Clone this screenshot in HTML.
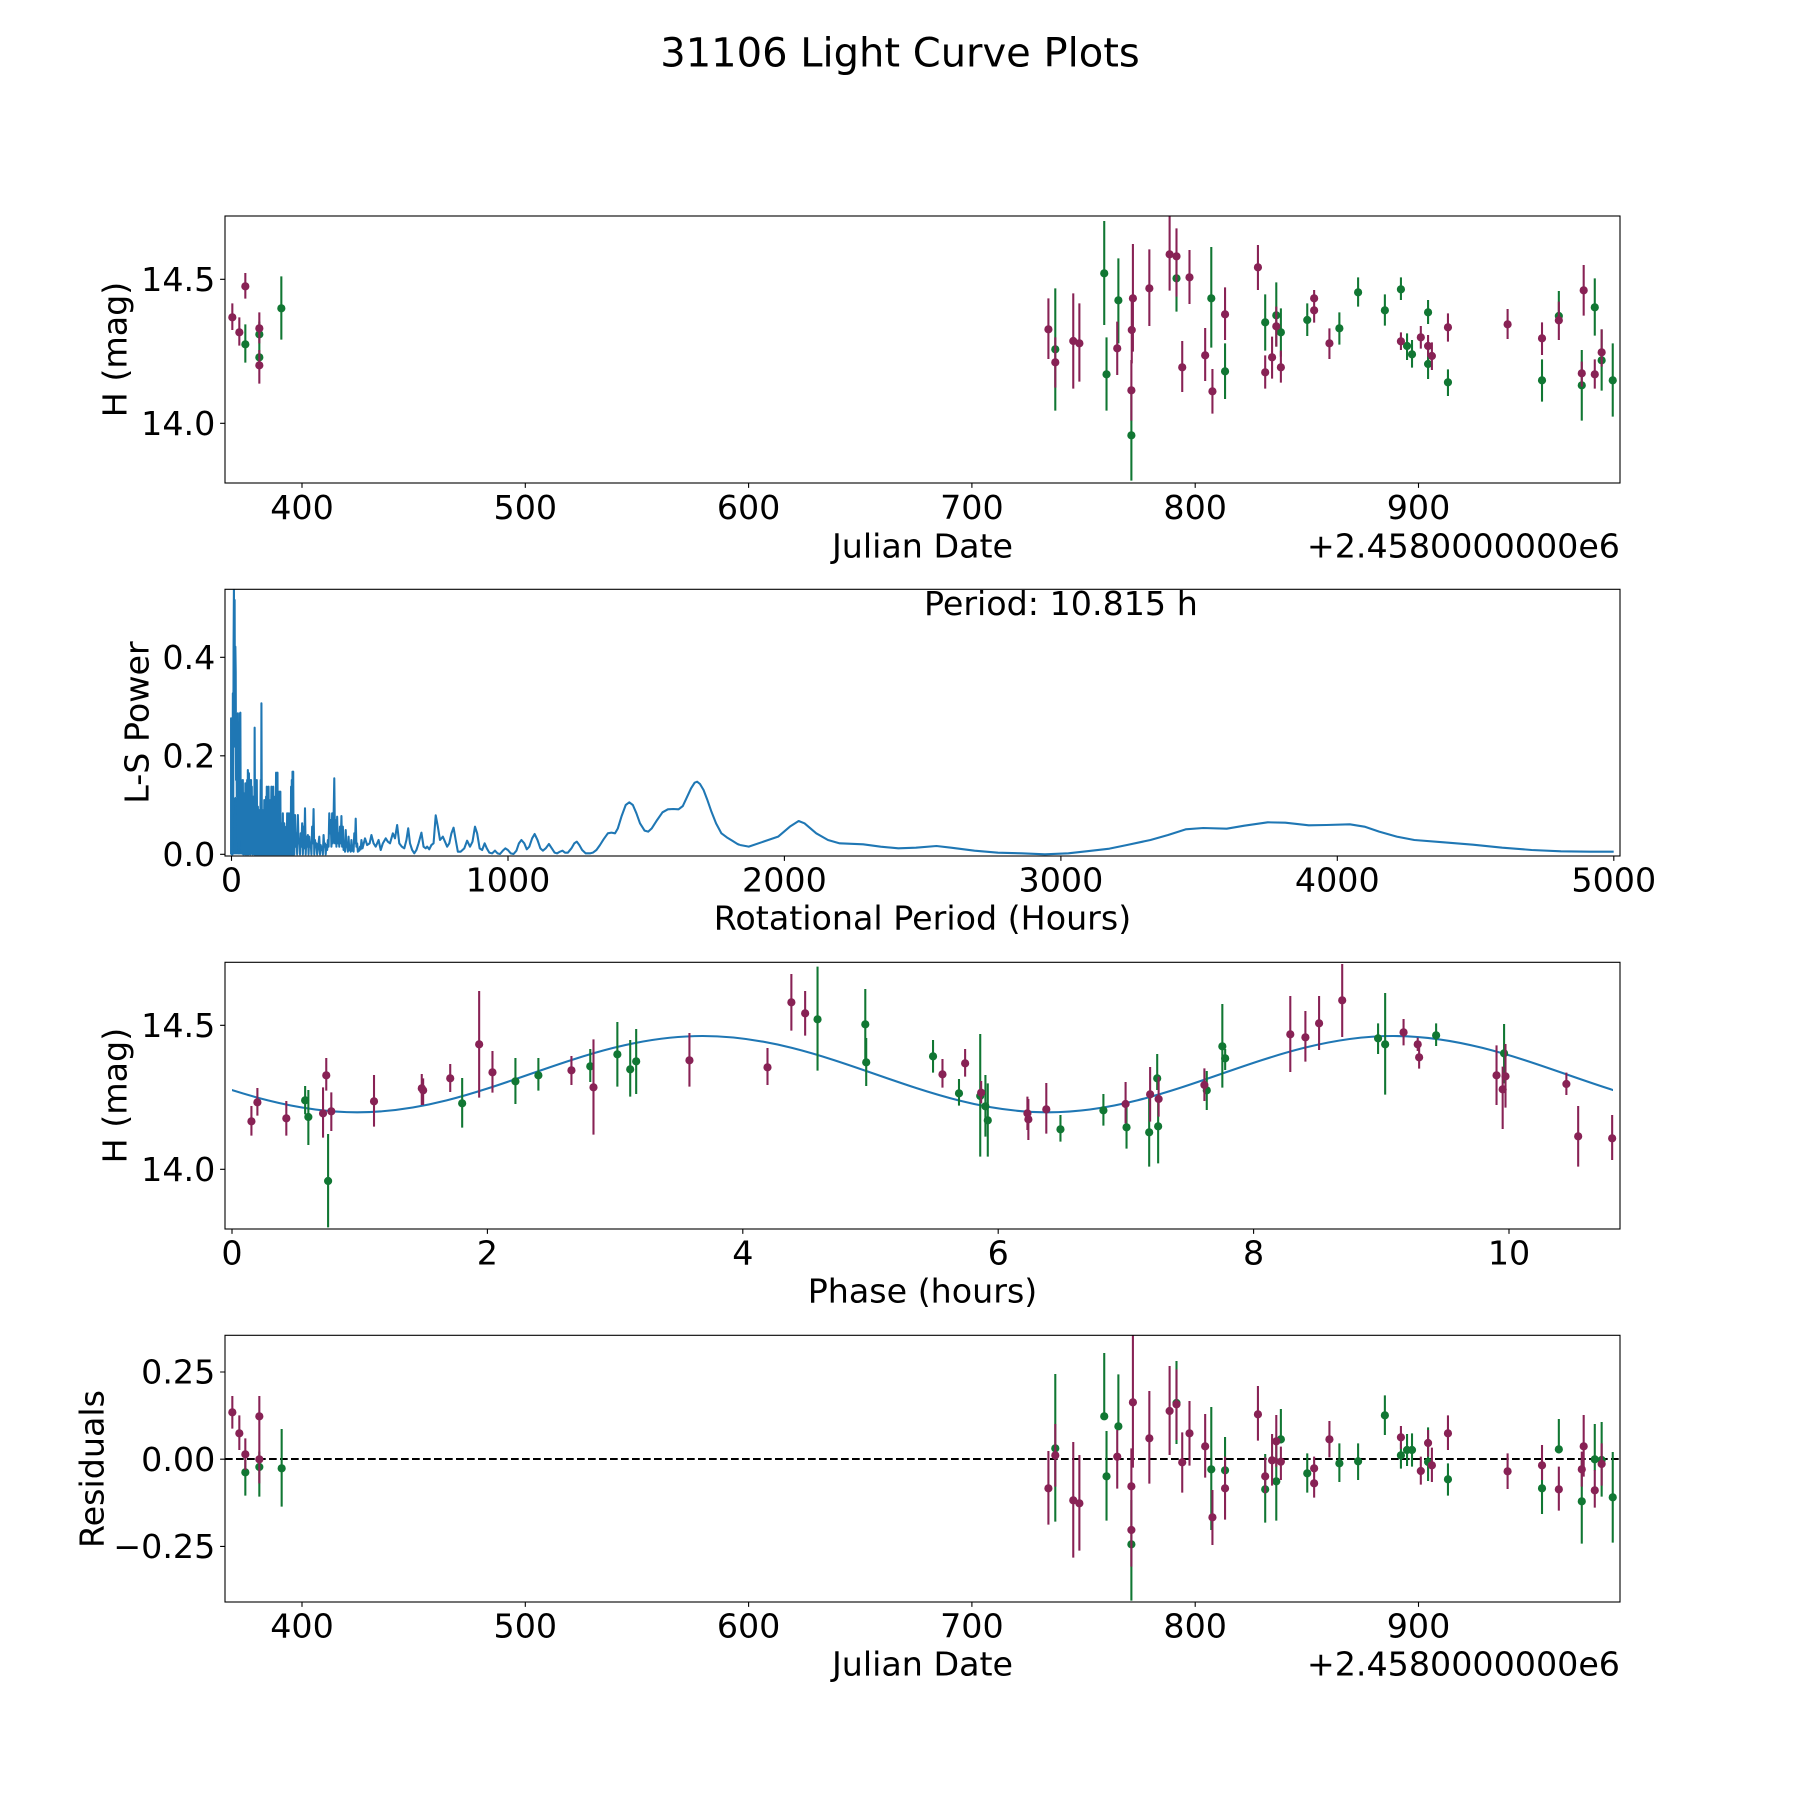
<!DOCTYPE html>
<html><head><meta charset="utf-8"><style>
html,body{margin:0;padding:0;background:#fff;}
svg{display:block;}
svg text{font-family:"DejaVu Sans","Liberation Sans",sans-serif;font-size:33.3px;fill:#000;}
.d path{vector-effect:non-scaling-stroke;fill:none;}
.g{stroke:#117733;}
.p{stroke:#882255;}
.bar{stroke-width:2.08;}
.dot{stroke-width:8.2;stroke-linecap:round;}
.blue{stroke:#1f77b4;stroke-width:2.08;stroke-linejoin:round;fill:none;vector-effect:non-scaling-stroke;}
.frame{fill:none;stroke:#000;stroke-width:1.1;}
.tk{stroke:#000;stroke-width:1.1;fill:none;}
</style></head><body>
<svg width="1800" height="1800" viewBox="0 0 1800 1800" xmlns="http://www.w3.org/2000/svg">
<rect x="0" y="0" width="1800" height="1800" fill="#fff"/>
<defs>
<clipPath id="c1"><rect x="225" y="216" width="1395" height="267"/></clipPath>
<clipPath id="c2"><rect x="225" y="589.3" width="1395" height="266.7"/></clipPath>
<clipPath id="c3"><rect x="225" y="962.3" width="1395" height="266.7"/></clipPath>
<clipPath id="c3b"><rect x="232" y="962.3" width="1381" height="266.7"/></clipPath>
<clipPath id="c4"><rect x="225" y="1335.3" width="1395" height="266.7"/></clipPath>
</defs>

<text x="900" y="66.7" text-anchor="middle" style="font-size:40px">31106 Light Curve Plots</text>

<!-- ============ PANEL 1 ============ -->
<g clip-path="url(#c1)">
 <g class="d" transform="translate(200,200) scale(0.33333,0.33333)">
  <path class="g bar" d="M136,373V488 M178,365V440 M178,440V505 M244,229V419"/>
  <path class="g dot" d="M136,433h0 M178,403h0 M178,472h0 M244,325h0"/>
  <path class="p bar" d="M97,310V390 M118,352V437 M136,219V296 M178,337V430 M178,450V551"/>
  <path class="p dot" d="M97,352h0 M118,397h0 M136,259h0 M178,385h0 M178,496h0"/>
 </g>
 <g class="d" transform="translate(1040,200) scale(0.38234,0.33333)">
  <path class="g bar" d="M40,265V632 M168,63V375 M174,412V632 M205,175V430 M239,575V842 M357,170V335 M448,141V443 M484,430V597 M589,283V452 M618,247V440 M630,325V470 M699,310V408 M783,337V434 M832,232V320 M902,283V377 M944,232V300 M960,400V480 M973,420V503 M1015,300V372 M1015,440V537 M1067,508V588 M1313,478V605 M1357,273V360 M1417,450V662 M1451,235V407 M1469,388V572 M1498,430V650"/>
  <path class="g dot" d="M40,448h0 M168,220h0 M174,523h0 M205,301h0 M239,706h0 M357,235h0 M448,295h0 M484,514h0 M589,367h0 M618,346h0 M630,397h0 M699,360h0 M783,385h0 M832,277h0 M902,331h0 M944,268h0 M960,438h0 M973,463h0 M1015,337h0 M1015,492h0 M1067,547h0 M1313,541h0 M1357,348h0 M1417,556h0 M1451,322h0 M1469,481h0 M1498,541h0"/>
  <path class="p bar" d="M22,295V477 M40,412V563 M87,280V566 M103,310V545 M202,365V525 M243,132V455 M240,290V490 M239,480V662 M286,148V378 M339,40V272 M357,85V290 M391,150V312 M372,423V576 M432,384V543 M451,507V641 M484,262V420 M570,135V270 M589,466V566 M607,410V536 M618,320V440 M630,452V548 M717,270V368 M757,385V477 M944,397V450 M996,378V446 M1015,405V470 M1025,427V510 M1067,340V425 M1223,327V417 M1313,367V465 M1357,305V420 M1422,195V347 M1417,485V560 M1451,478V566 M1469,388V500"/>
  <path class="p dot" d="M22,388h0 M40,487h0 M87,423h0 M103,430h0 M202,445h0 M243,295h0 M240,390h0 M239,571h0 M286,265h0 M339,163h0 M357,169h0 M391,232h0 M372,502h0 M432,466h0 M451,574h0 M484,343h0 M570,202h0 M589,517h0 M607,472h0 M618,379h0 M630,502h0 M717,295h0 M717,331h0 M757,430h0 M944,424h0 M996,412h0 M1015,438h0 M1025,468h0 M1067,382h0 M1223,373h0 M1313,415h0 M1357,361h0 M1422,271h0 M1417,520h0 M1451,523h0 M1469,457h0"/>
 </g>
</g>
<rect class="frame" x="225" y="216" width="1395" height="267"/>
<path class="tk" d="M302,483V487.9 M525.3,483V487.9 M748.6,483V487.9 M971.9,483V487.9 M1195.2,483V487.9 M1418.5,483V487.9 M225,423.3H220.1 M225,279.3H220.1"/>
<g text-anchor="middle">
 <text x="302" y="519">400</text><text x="525.3" y="519">500</text><text x="748.6" y="519">600</text>
 <text x="971.9" y="519">700</text><text x="1195.2" y="519">800</text><text x="1418.5" y="519">900</text>
 <text x="922.5" y="557.3">Julian Date</text>
</g>
<g text-anchor="end">
 <text x="215.3" y="435">14.0</text><text x="215.3" y="291">14.5</text>
 <text x="1620" y="557.3">+2.4580000000e6</text>
</g>
<text x="126.7" y="349.5" text-anchor="middle" transform="rotate(-90 126.7 349.5)">H (mag)</text>

<!-- ============ PANEL 2 ============ -->
<g clip-path="url(#c2)">
 <g transform="translate(200,580) scale(0.35714,0.33333)">
  <path fill="#1f77b4" d="M88,823 L88,660 L100,650 L110,670 L125,690 L140,695 L160,705 L180,715 L200,725 L220,740 L235,755 L250,780 L256,823 Z"/>
  <path class="blue" d="M87,823 87,415 89,823 90,560 91,823 92,340 93,700 94,200 95,20 96,400 97,60 98,500 99,200 100,275 101,600 102,450 103,650 104,480 105,780 106,400 107,700 108,600 109,820 110,600 111,780 112,400 113,398 114,720 115,600 116,620 117,820 118,650 119,800 120,600 121,823 122,660 123,640 124,810 125,700 126,823 127,610 128,760 129,823 130,650 131,760 132,600 133,823 134,570 135,700 136,823 137,580 138,760 139,650 140,600 141,823 142,700 143,600 144,810 145,620 146,760 147,823 148,660 149,650 150,800 151,700 152,823 153,443 154,700 155,823 156,690 157,640 158,823 159,600 160,760 161,823 162,680 163,720 164,823 165,700 166,760 167,690 168,823 169,720 170,600 171,823 172,370 173,690 174,823 175,690 176,760 177,823 178,715 179,780 180,660 181,823 182,700 183,760 184,823 185,650 186,780 187,620 188,823 189,700 190,700 191,823 192,620 193,760 194,823 195,680 196,780 197,660 198,823 199,700 200,620 201,823 202,780 203,650 204,823 205,620 206,760 207,823 208,690 209,780 210,650 211,823 212,720 213,578 214,823 215,720 216,823 217,578 218,800 219,700 220,823 221,700 222,635 223,823 224,740 225,635 226,823 227,760 228,730 229,823 230,740 231,800 232,700 233,823 234,735 235,790 236,730 237,823 238,740 239,800 240,765 241,823 242,760 243,810 244,700 245,823 246,735 247,800 248,823 249,700 250,823 251,780 252,735 253,823 254,800 255,620 256,823 257,600 258,823 259,575 260,823 261,575 262,780 264,823 266,705 268,800 270,760 272,823 274,705 276,790 278,780 280,823 282,760 284,800 286,730 288,823 290,740 292,805 294,685 296,823 298,770 300,800 302,765 304,823 306,770 308,800 310,790 312,823 314,740 316,790 318,687 320,823 322,780 324,800 326,790 328,823 330,805 332,790 334,770 336,823 338,795 340,810 342,800 344,823 346,765 348,800 350,790 352,823 354,795 356,810 358,780 360,800 362,700 364,760 366,720 368,800 370,700 372,790 374,715 376,595 378,790 380,720 382,800 384,710 386,790 388,760 390,800 392,740 394,790 396,708 398,800 400,740 402,810 404,790 406,815 408,750 410,800 412,800 414,815 416,770 418,810 420,810 422,815 424,780 426,812 428,800 430,815 432,760 434,790 436,716 438,800 440,790 442,815 444,810 446,812 448,800 450,808 452,780 455,805 462,775 468,795 475,790 480,765 486,790 492,800 500,780 506,810 512,790 520,775 526,785 532,790 540,760 546,775 552,735 558,790 565,800 572,805 578,780 583,745 588,790 594,810 600,820 606,810 612,790 620,758 626,800 632,805 636,800 642,808 648,795 654,790 660,706 666,740 672,780 680,770 686,785 692,800 698,790 704,760 710,743 716,780 722,815 730,815 740,805 748,782 756,800 763,785 770,740 776,760 783,805 790,810 797,790 803,805 810,818 818,820 826,812 833,820 840,822 848,812 855,805 862,810 870,820 878,822 886,812 893,790 900,780 908,790 915,808 922,800 930,775 937,762 945,780 953,805 960,812 968,805 977,792 985,805 993,818 1000,820 1008,815 1015,812 1022,818 1030,818 1040,805 1048,790 1055,785 1062,795 1070,810 1080,820 1092,820 1100,818 1110,810 1120,795 1130,778 1142,760 1152,758 1162,760 1170,745 1180,710 1192,675 1202,667 1212,675 1222,700 1232,730 1245,752 1255,755 1265,745 1280,720 1295,697 1310,688 1325,687 1340,688 1352,678 1362,655 1375,625 1385,608 1392,605 1400,612 1410,630 1420,658 1432,695 1445,730 1460,760 1475,772 1490,782 1505,792 1512,795"/>
 </g>
 <g transform="translate(740,580) scale(0.58638,0.33333)">
  <path class="blue" d="M0,795 15,800 40,785 65,770 85,740 100,723 110,730 130,760 150,780 170,790 210,793 240,800 270,805 300,803 335,798 360,803 400,812 440,818 480,820 520,823 560,820 600,812 630,806 660,795 700,780 730,765 760,748 790,744 830,746 860,737 900,727 930,728 970,736 1000,735 1040,733 1065,740 1090,755 1120,770 1150,780 1200,787 1250,794 1300,803 1350,810 1400,814 1450,815 1490,815"/>
 </g>
</g>
<rect class="frame" x="225" y="589.3" width="1395" height="266.7"/>
<path class="tk" d="M231.5,856V860.9 M508,856V860.9 M784.4,856V860.9 M1060.9,856V860.9 M1337.3,856V860.9 M1613.8,856V860.9 M225,854.3H220.1 M225,755.8H220.1 M225,657.3H220.1"/>
<g text-anchor="middle">
 <text x="231.5" y="891.7">0</text><text x="508" y="891.7">1000</text><text x="784.4" y="891.7">2000</text>
 <text x="1060.9" y="891.7">3000</text><text x="1337.3" y="891.7">4000</text><text x="1613.8" y="891.7">5000</text>
 <text x="922.5" y="929.7">Rotational Period (Hours)</text>
 <text x="1060.9" y="615">Period: 10.815 h</text>
</g>
<g text-anchor="end">
 <text x="215.3" y="866">0.0</text><text x="215.3" y="767.5">0.2</text><text x="215.3" y="669">0.4</text>
</g>
<text x="148.3" y="722.5" text-anchor="middle" transform="rotate(-90 148.3 722.5)">L-S Power</text>

<!-- ============ PANEL 3 ============ -->
<g clip-path="url(#c3)">
 <g clip-path="url(#c3b)">
  <path class="blue" d="M12,1036 C137.8,1036 231.5,1112.3 357.3,1112.3 C483.1,1112.3 576.8,1036 702.6,1036 C828.4,1036 922.1,1112.3 1047.9,1112.3 C1173.7,1112.3 1267.4,1036 1393.2,1036 C1519,1036 1612.7,1112.3 1738.5,1112.3"/>
 </g>
 <g class="d" transform="translate(200,950) scale(0.45914,0.33333)">
  <path class="g bar" d="M229,408V493 M236,420V585 M279,552V832 M571,384V533 M687,324V462 M737,324V422 M850,297V396 M909,216V410 M937,270V440 M950,237V432 M1345,50V362 M1449,117V338 M1451,264V408"/>
  <path class="g dot" d="M229,451h0 M236,501h0 M279,693h0 M571,460h0 M687,394h0 M737,376h0 M850,349h0 M909,313h0 M937,358h0 M950,334h0 M1345,208h0 M1449,223h0 M1451,337h0"/>
  <path class="p bar" d="M112,468V557 M125,414V497 M188,453V557 M268,412V563 M275,324V422 M286,427V543 M379,375V530 M483,372V465 M486,385V465 M545,342V426 M608,123V443 M637,303V428 M809,318V405 M857,268V554 M1066,249V410 M1236,294V405 M1288,72V242 M1318,123V257"/>
  <path class="p dot" d="M112,514h0 M125,457h0 M188,505h0 M268,490h0 M275,376h0 M286,484h0 M379,454h0 M483,415h0 M486,421h0 M545,385h0 M608,283h0 M637,367h0 M809,361h0 M857,412h0 M1066,331h0 M1236,352h0 M1288,157h0 M1318,190h0"/>
 </g>
 <g class="d" transform="translate(900,950) scale(0.47194,0.33333)">
  <path class="g bar" d="M70,270V368 M125,387V467 M170,252V620 M181,375V560 M186,400V620 M340,495V575 M431,432V527 M480,467V596 M528,445V650 M545,312V420 M547,450V640 M650,363V480 M683,162V413 M689,297V360 M1013,220V312 M1028,129V434 M1136,220V288 M1280,222V400"/>
  <path class="g dot" d="M70,319h0 M125,430h0 M170,438h0 M181,469h0 M186,511h0 M340,538h0 M431,481h0 M480,532h0 M528,547h0 M545,385h0 M547,529h0 M650,421h0 M683,289h0 M689,325h0 M1013,265h0 M1028,283h0 M1136,256h0 M1280,310h0"/>
  <path class="p bar" d="M90,327V413 M138,297V380 M172,393V460 M270,440V540 M272,447V570 M310,399V551 M478,396V520 M530,351V515 M548,380V500 M645,355V453 M827,138V366 M859,183V335 M888,138V300 M937,42V261 M1067,207V286 M1097,263V303 M1100,288V356 M1264,286V465 M1277,350V537 M1283,282V473 M1412,368V435 M1437,468V650 M1509,495V630"/>
  <path class="p dot" d="M90,373h0 M138,340h0 M172,428h0 M270,490h0 M272,508h0 M310,478h0 M478,462h0 M530,433h0 M548,447h0 M645,405h0 M827,253h0 M859,262h0 M888,220h0 M937,151h0 M1067,247h0 M1097,283h0 M1100,322h0 M1264,376h0 M1277,418h0 M1283,379h0 M1412,402h0 M1437,559h0 M1509,565h0"/>
 </g>
</g>
<rect class="frame" x="225" y="962.3" width="1395" height="266.7"/>
<path class="tk" d="M232,1229V1233.9 M487.4,1229V1233.9 M742.8,1229V1233.9 M998.2,1229V1233.9 M1253.6,1229V1233.9 M1509,1229V1233.9 M225,1169.3H220.1 M225,1025.3H220.1"/>
<g text-anchor="middle">
 <text x="232" y="1264.7">0</text><text x="487.4" y="1264.7">2</text><text x="742.8" y="1264.7">4</text>
 <text x="998.2" y="1264.7">6</text><text x="1253.6" y="1264.7">8</text><text x="1509" y="1264.7">10</text>
 <text x="922.5" y="1302.7">Phase (hours)</text>
</g>
<g text-anchor="end">
 <text x="215.3" y="1181">14.0</text><text x="215.3" y="1037">14.5</text>
</g>
<text x="126.7" y="1095.6" text-anchor="middle" transform="rotate(-90 126.7 1095.6)">H (mag)</text>

<!-- ============ PANEL 4 ============ -->
<g clip-path="url(#c4)">
 <path d="M225,1459H1620" stroke="#000" stroke-width="2.08" stroke-dasharray="7.7,3.3" fill="none"/>
 <g class="d" transform="translate(0,1320) scale(0.33333,0.33333)">
  <path class="g bar" d="M736,420V527 M778,395V530 M845,327V560"/>
  <path class="g dot" d="M736,457h0 M778,441h0 M845,445h0"/>
  <path class="p bar" d="M697,228V326 M718,286V390 M736,355V450 M778,228V350 M778,350V490"/>
  <path class="p dot" d="M697,277h0 M718,340h0 M736,403h0 M778,289h0 M778,418h0"/>
 </g>
 <g class="d" transform="translate(1040,1320) scale(0.38234,0.33333)">
  <path class="g bar" d="M40,162V605 M168,99V300 M174,333V602 M205,163V330 M239,540V842 M357,123V372 M448,261V630 M484,351V460 M589,402V608 M618,375V602 M630,267V370 M699,400V518 M783,370V486 M832,370V480 M902,226V345 M944,370V446 M960,342V438 M973,340V440 M1015,322V483 M1067,430V527 M1313,438V582 M1357,297V400 M1417,420V671 M1451,312V452 M1469,306V530 M1498,396V668"/>
  <path class="g dot" d="M40,385h0 M168,289h0 M174,469h0 M205,319h0 M239,673h0 M357,249h0 M448,448h0 M484,451h0 M589,508h0 M618,484h0 M630,358h0 M699,460h0 M783,430h0 M832,424h0 M902,286h0 M944,406h0 M960,390h0 M973,390h0 M1015,426h0 M1067,478h0 M1313,505h0 M1357,388h0 M1417,544h0 M1451,418h0 M1469,420h0 M1498,532h0"/>
  <path class="p bar" d="M22,393V614 M40,312V500 M87,366V713 M103,405V692 M202,330V506 M243,40V443 M239,385V560 M239,520V740 M286,213V491 M339,138V405 M357,148V360 M372,337V518 M391,243V437 M432,282V473 M451,510V675 M484,410V599 M570,198V362 M589,412V520 M607,342V497 M618,285V440 M630,380V480 M717,410V480 M717,445V533 M757,303V412 M944,318V387 M996,410V494 M1015,330V410 M1025,383V486 M1067,286V390 M1223,400V507 M1313,375V480 M1357,440V572 M1422,285V470 M1417,395V500 M1451,450V563 M1469,370V497"/>
  <path class="p dot" d="M22,505h0 M40,406h0 M87,541h0 M103,550h0 M202,410h0 M243,247h0 M239,499h0 M239,630h0 M286,355h0 M339,273h0 M357,253h0 M372,427h0 M391,340h0 M432,379h0 M451,592h0 M484,505h0 M570,283h0 M589,469h0 M607,421h0 M618,364h0 M630,425h0 M717,445h0 M717,490h0 M757,358h0 M944,352h0 M996,453h0 M1015,369h0 M1025,436h0 M1067,340h0 M1223,454h0 M1313,436h0 M1357,508h0 M1422,379h0 M1417,448h0 M1451,511h0 M1469,432h0"/>
 </g>
</g>
<rect class="frame" x="225" y="1335.3" width="1395" height="266.7"/>
<path class="tk" d="M302,1602V1606.9 M525.3,1602V1606.9 M748.6,1602V1606.9 M971.9,1602V1606.9 M1195.2,1602V1606.9 M1418.5,1602V1606.9 M225,1372H220.1 M225,1459.2H220.1 M225,1546.4H220.1"/>
<g text-anchor="middle">
 <text x="302" y="1637.7">400</text><text x="525.3" y="1637.7">500</text><text x="748.6" y="1637.7">600</text>
 <text x="971.9" y="1637.7">700</text><text x="1195.2" y="1637.7">800</text><text x="1418.5" y="1637.7">900</text>
 <text x="922.5" y="1675.7">Julian Date</text>
</g>
<g text-anchor="end">
 <text x="215.3" y="1383.7">0.25</text><text x="215.3" y="1470.9">0.00</text><text x="215.3" y="1558.1">−0.25</text>
 <text x="1620" y="1675.7">+2.4580000000e6</text>
</g>
<text x="103.3" y="1469" text-anchor="middle" transform="rotate(-90 103.3 1469)">Residuals</text>
</svg>
</body></html>
